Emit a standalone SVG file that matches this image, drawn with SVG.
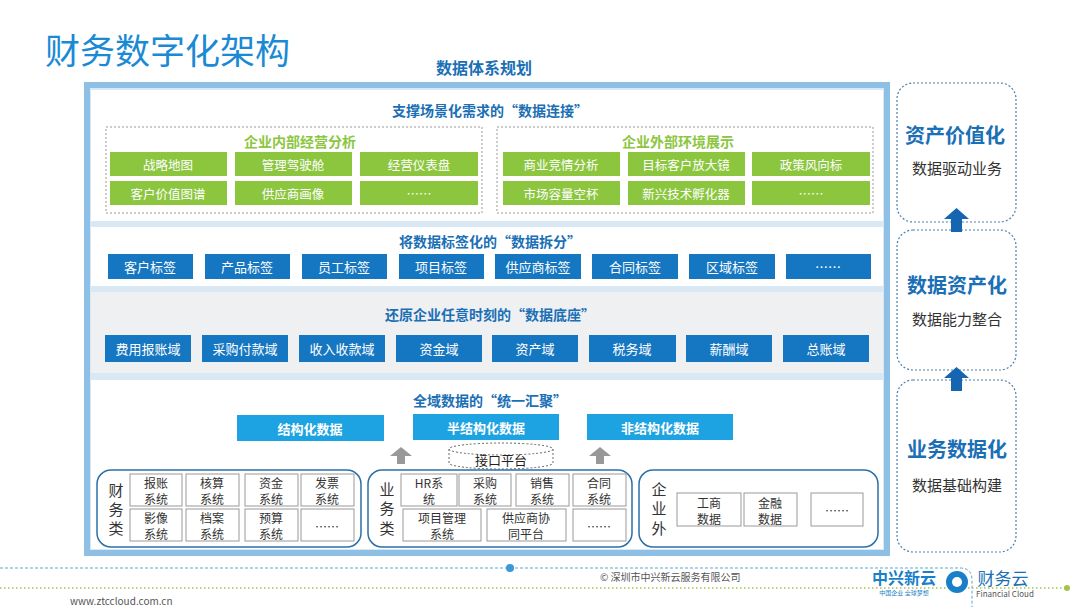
<svg xmlns="http://www.w3.org/2000/svg" width="1080" height="607" viewBox="0 0 1080 607">
<style>
text{font-family:"Noto Sans CJK SC","Liberation Sans",sans-serif;text-anchor:middle;dominant-baseline:central}
.h{fill:#1a6fb5;font-weight:bold;font-size:14px}
.g rect{fill:#8cc63f}
.g text{fill:#fff;font-size:12.5px}
.b rect{fill:#1577c2}
.b text{fill:#fff;font-size:13px}
.c rect{fill:#1ea3e2}
.c text{fill:#fff;font-size:13px;font-weight:bold}
.s rect{fill:#fff;stroke:#999;stroke-width:1}
.s text{fill:#333;font-size:12px}
.grp{fill:#fff;stroke:#2b6fa6;stroke-width:1.5}
.dash{fill:none;stroke:#999;stroke-dasharray:2 2}
.rdash{fill:#fff;stroke:#4a7fb0;stroke-dasharray:2 2;stroke-width:1.2}
.big{fill:#1a6fb5;font-weight:bold;font-size:20px}
.sub{fill:#333;font-size:15px}
.vt{fill:#333;font-size:15px}
</style>
<rect width="1080" height="607" fill="#fff"/>
<text x="45" y="48" style="text-anchor:start;font-size:35px;fill:#1a8ad4">财务数字化架构</text>
<text x="484" y="67" class="h" style="font-size:16px">数据体系规划</text>
<rect x="87" y="85" width="800" height="468" fill="#d8e8f5" stroke="#8ec0e6" stroke-width="6"/>
<g id="sec1">
<rect x="91" y="90" width="792" height="131" fill="#fff"/>
<text x="490" y="110" class="h">支撑场景化需求的“数据连接”</text>
<rect x="106" y="127" width="376" height="86" class="dash"/>
<rect x="497" y="127" width="376" height="86" class="dash"/>
<text x="300" y="141" style="fill:#8cc63f;font-size:14px;font-weight:bold">企业内部经营分析</text>
<text x="678" y="141" style="fill:#8cc63f;font-size:14px;font-weight:bold">企业外部环境展示</text>
<g class="g">
<rect x="110" y="152" width="117" height="24"/><text x="168" y="164">战略地图</text>
<rect x="235" y="152" width="117" height="24"/><text x="293" y="164">管理驾驶舱</text>
<rect x="360" y="152" width="118" height="24"/><text x="419" y="164">经营仪表盘</text>
<rect x="110" y="181" width="117" height="24"/><text x="168" y="193">客户价值图谱</text>
<rect x="235" y="181" width="117" height="24"/><text x="293" y="193">供应商画像</text>
<rect x="360" y="181" width="118" height="24"/><text x="419" y="193">……</text>
<rect x="503" y="152" width="117" height="24"/><text x="561" y="164">商业竞情分析</text>
<rect x="628" y="152" width="117" height="24"/><text x="686" y="164">目标客户放大镜</text>
<rect x="752" y="152" width="118" height="24"/><text x="811" y="164">政策风向标</text>
<rect x="503" y="181" width="117" height="24"/><text x="561" y="193">市场容量空杯</text>
<rect x="628" y="181" width="117" height="24"/><text x="686" y="193">新兴技术孵化器</text>
<rect x="752" y="181" width="118" height="24"/><text x="811" y="193">……</text>
</g>
</g>
<g id="sec2">
<rect x="91" y="227" width="792" height="59" fill="#fff"/>
<text x="490" y="241" class="h">将数据标签化的“数据拆分”</text>
<g class="b">
<rect x="108" y="254" width="85" height="25"/><text x="150" y="266">客户标签</text>
<rect x="205" y="254" width="85" height="25"/><text x="247" y="266">产品标签</text>
<rect x="302" y="254" width="85" height="25"/><text x="344" y="266">员工标签</text>
<rect x="399" y="254" width="85" height="25"/><text x="441" y="266">项目标签</text>
<rect x="495" y="254" width="86" height="25"/><text x="538" y="266">供应商标签</text>
<rect x="592" y="254" width="86" height="25"/><text x="635" y="266">合同标签</text>
<rect x="689" y="254" width="86" height="25"/><text x="732" y="266">区域标签</text>
<rect x="786" y="254" width="85" height="25"/><text x="828" y="266">……</text>
</g>
</g>
<g id="sec3">
<rect x="91" y="292" width="792" height="81" fill="#eef0f2"/>
<text x="490" y="314" class="h">还原企业任意时刻的“数据底座”</text>
<g class="b">
<rect x="105" y="335" width="86" height="27"/><text x="148" y="348">费用报账域</text>
<rect x="202" y="335" width="86" height="27"/><text x="245" y="348">采购付款域</text>
<rect x="299" y="335" width="86" height="27"/><text x="342" y="348">收入收款域</text>
<rect x="396" y="335" width="86" height="27"/><text x="439" y="348">资金域</text>
<rect x="492" y="335" width="86" height="27"/><text x="535" y="348">资产域</text>
<rect x="589" y="335" width="87" height="27"/><text x="632" y="348">税务域</text>
<rect x="686" y="335" width="86" height="27"/><text x="729" y="348">薪酬域</text>
<rect x="783" y="335" width="86" height="27"/><text x="826" y="348">总账域</text>
</g>
</g>
<g id="sec4">
<rect x="91" y="380" width="792" height="169" fill="#fff"/>
<text x="490" y="400" class="h">全域数据的“统一汇聚”</text>
<g class="c">
<rect x="237" y="415" width="147" height="26"/><text x="310" y="428">结构化数据</text>
<rect x="413" y="414" width="146" height="26"/><text x="486" y="427">半结构化数据</text>
<rect x="587" y="414" width="146" height="26"/><text x="660" y="427">非结构化数据</text>
</g>
<g id="cyl">
<path d="M449 449 v14 a52 6 0 0 0 104 0 v-14" class="dash" style="stroke:#666"/>
<ellipse cx="501" cy="449" rx="52" ry="6" class="dash" style="stroke:#666"/>
<text x="501" y="459" style="font-size:13px;fill:#222">接口平台</text>
</g>
<rect x="97" y="470" width="264" height="77" rx="14" class="grp"/>
<rect x="368" y="470" width="264" height="77" rx="14" class="grp"/>
<rect x="639" y="470" width="239" height="77" rx="14" class="grp"/>
<text x="116" y="489" class="vt">财</text><text x="116" y="508" class="vt">务</text><text x="116" y="527" class="vt">类</text>
<text x="387" y="488" class="vt">业</text><text x="387" y="507" class="vt">务</text><text x="387" y="527" class="vt">类</text>
<text x="659" y="488" class="vt">企</text><text x="659" y="507" class="vt">业</text><text x="659" y="527" class="vt">外</text>
<g class="s">
<rect x="130" y="474" width="52" height="32"/><text x="156" y="482">报账</text><text x="156" y="498">系统</text>
<rect x="186" y="474" width="53" height="32"/><text x="212" y="482">核算</text><text x="212" y="498">系统</text>
<rect x="245" y="474" width="53" height="32"/><text x="271" y="482">资金</text><text x="271" y="498">系统</text>
<rect x="301" y="474" width="53" height="32"/><text x="327" y="482">发票</text><text x="327" y="498">系统</text>
<rect x="130" y="509" width="52" height="32"/><text x="156" y="517">影像</text><text x="156" y="533">系统</text>
<rect x="186" y="509" width="53" height="32"/><text x="212" y="517">档案</text><text x="212" y="533">系统</text>
<rect x="245" y="509" width="53" height="32"/><text x="271" y="517">预算</text><text x="271" y="533">系统</text>
<rect x="301" y="509" width="53" height="32"/><text x="327" y="526">……</text>
<rect x="401" y="474" width="56" height="32"/><text x="429" y="482">HR系</text><text x="429" y="498">统</text>
<rect x="459" y="474" width="52" height="32"/><text x="485" y="482">采购</text><text x="485" y="498">系统</text>
<rect x="516" y="474" width="53" height="32"/><text x="542" y="482">销售</text><text x="542" y="498">系统</text>
<rect x="573" y="474" width="53" height="32"/><text x="599" y="482">合同</text><text x="599" y="498">系统</text>
<rect x="403" y="509" width="78" height="32"/><text x="442" y="517">项目管理</text><text x="442" y="533">系统</text>
<rect x="487" y="509" width="79" height="32"/><text x="526" y="517">供应商协</text><text x="526" y="533">同平台</text>
<rect x="573" y="509" width="53" height="32"/><text x="599" y="526">……</text>
<rect x="677" y="493" width="64" height="33"/><text x="709" y="502">工商</text><text x="709" y="518">数据</text>
<rect x="744" y="493" width="53" height="33"/><text x="770" y="502">金融</text><text x="770" y="518">数据</text>
<rect x="811" y="493" width="52" height="33"/><text x="837" y="510">……</text>
</g>
</g>
<g id="right">
<rect x="897" y="83" width="119" height="139" rx="16" class="rdash"/>
<rect x="897" y="230" width="119" height="140" rx="16" class="rdash"/>
<rect x="897" y="380" width="119" height="172" rx="16" class="rdash"/>
<text x="955" y="134" class="big">资产价值化</text><text x="957" y="167" class="sub">数据驱动业务</text>
<text x="957" y="284" class="big">数据资产化</text><text x="957" y="318" class="sub">数据能力整合</text>
<text x="957" y="448" class="big">业务数据化</text><text x="957" y="484" class="sub">数据基础构建</text>
</g>
<g id="connectors">
<path d="M390 456 h7 v8 h8 v-8 h7 l-11 -9 z" fill="#999"/>
<path d="M589 456 h7 v8 h8 v-8 h7 l-11 -9 z" fill="#999"/>
<path d="M944 219 h7 v13 h11 v-13 h7 l-12.5 -11 z" fill="#1565b0"/>
<path d="M944 378 h7 v13 h11 v-13 h7 l-12.5 -11 z" fill="#1565b0"/>
</g>
<g id="footer">
<path d="M0 568 H960 q12 0 12 12 V607" fill="none" stroke="#5aa9d6" stroke-width="1" style="stroke-dasharray:3 2"/>
<circle cx="510" cy="568" r="4" fill="#3b9ad6"/>
<path d="M0 588 H1065" stroke="#a6c24a" stroke-width="1.5" style="stroke-dasharray:1.5 2.5"/>
<circle cx="1067" cy="588" r="3" fill="#a6c24a"/>
<text x="70" y="600" style="text-anchor:start;font-size:10px;fill:#555">www.ztccloud.com.cn</text>
<text x="600" y="576" style="text-anchor:start;font-size:10px;fill:#555">© 深圳市中兴新云服务有限公司</text>
<text x="904" y="577" style="font-size:16px;font-weight:bold;fill:#1a7fc9">中兴新云</text>
<text x="904" y="592" style="font-size:6px;fill:#1a7fc9">中国企业 全球梦想</text>
<circle cx="957" cy="582" r="11" fill="#1a7fc9"/><circle cx="957" cy="582" r="5" fill="#fff"/>
<text x="1003" y="577" style="font-size:17px;fill:#1a6fb5">财务云</text>
<text x="1005" y="593" style="font-size:8px;fill:#555">Financial Cloud</text>
</g>
</svg>
